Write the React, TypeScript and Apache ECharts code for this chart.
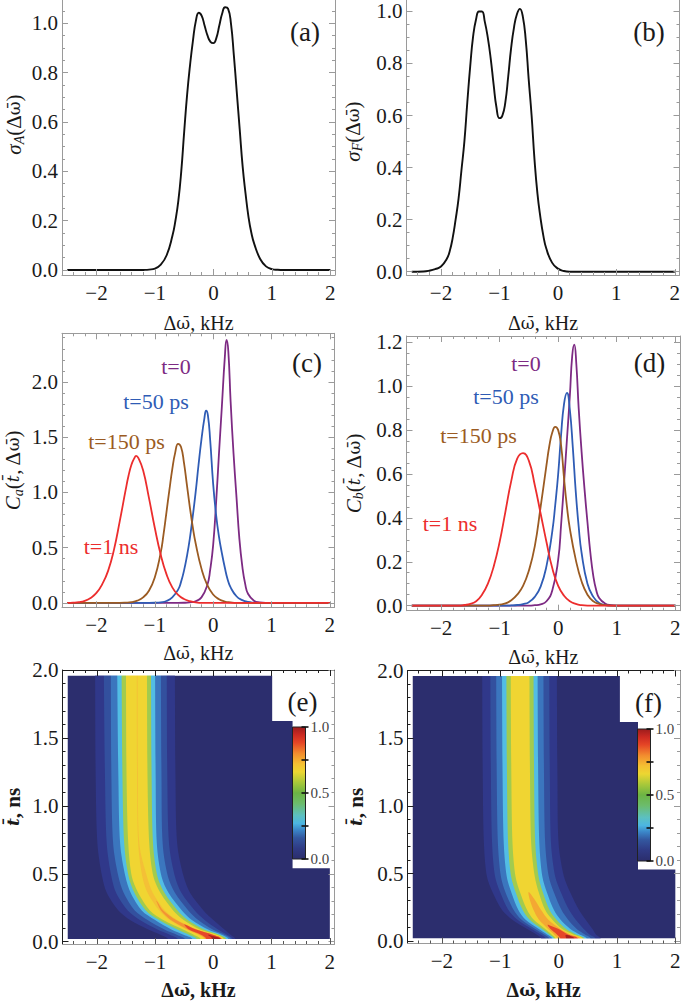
import React, { useEffect, useRef } from 'react';
import * as echarts from 'echarts';

const SERIF = 'Liberation Serif, Times New Roman, serif';
const DJ = 'DejaVu Serif, serif';

// ---------- axes / ticks ----------
const X_RANGE: [number, number] = [-2.59, 2.08];
const xMajor = [-2, -1, 0, 1, 2];
const yMajorAB = [0, 0.2, 0.4, 0.6, 0.8, 1.0];
const yMajorC = [0, 0.5, 1.0, 1.5, 2.0];
const yMajorD = [0, 0.2, 0.4, 0.6, 0.8, 1.0, 1.2];
const yMajorE = [0, 0.5, 1.0, 1.5, 2.0];
const cbarTicks = [0, 0.25, 0.5, 0.75, 1.0];
const cbarLabels = [0, 0.5, 1.0];

// ---------- (a), (b) ----------
const sigmaA: number[][] = [
  [-2.5, 0], [-1.3, 0], [-1.2, 0.0005], [-1.1, 0.002], [-1.0, 0.006], [-0.9, 0.022], [-0.8, 0.06], [-0.7, 0.14],
  [-0.65, 0.2], [-0.6, 0.28], [-0.55, 0.4], [-0.5, 0.56], [-0.45, 0.71], [-0.4, 0.83], [-0.35, 0.93], [-0.3, 1.01],
  [-0.25, 1.043], [-0.2, 1.03], [-0.15, 0.99], [-0.1, 0.95], [-0.05, 0.925], [0, 0.92], [0.05, 0.94], [0.1, 0.99],
  [0.15, 1.04], [0.2, 1.065], [0.25, 1.06], [0.3, 1.0], [0.35, 0.87], [0.4, 0.72], [0.45, 0.57], [0.5, 0.42],
  [0.55, 0.31], [0.6, 0.216], [0.65, 0.15], [0.7, 0.105], [0.8, 0.045], [0.9, 0.015], [1.0, 0.004], [1.1, 0.001],
  [1.2, 0], [2.0, 0],
];
const sigmaF: number[][] = [
  [-2.5, 0], [-2.3, 0.001], [-2.2, 0.004], [-2.1, 0.01], [-2.0, 0.02], [-1.9, 0.05], [-1.85, 0.08], [-1.8, 0.13],
  [-1.75, 0.2], [-1.7, 0.28], [-1.65, 0.39], [-1.6, 0.5], [-1.55, 0.65], [-1.5, 0.79], [-1.45, 0.905], [-1.4, 0.97],
  [-1.35, 1.0], [-1.3, 1.0], [-1.25, 0.96], [-1.2, 0.9], [-1.15, 0.82], [-1.1, 0.72], [-1.05, 0.63], [-1.0, 0.59],
  [-0.95, 0.6], [-0.9, 0.65], [-0.85, 0.75], [-0.8, 0.86], [-0.75, 0.94], [-0.7, 0.99], [-0.65, 1.01], [-0.6, 0.98],
  [-0.55, 0.89], [-0.5, 0.74], [-0.45, 0.6], [-0.4, 0.43], [-0.35, 0.3], [-0.3, 0.21], [-0.25, 0.14], [-0.2, 0.09],
  [-0.1, 0.035], [0, 0.012], [0.1, 0.003], [0.2, 0], [2.0, 0],
];

// ---------- (c) ----------
const caT0: number[][] = [
  [-2.5, 0], [-0.6, 0], [-0.5, 0.001], [-0.4, 0.005], [-0.3, 0.015], [-0.2, 0.05], [-0.1, 0.16], [-0.05, 0.3],
  [0, 0.52], [0.05, 0.9], [0.1, 1.35], [0.15, 1.78], [0.2, 2.22], [0.23, 2.38], [0.26, 2.28], [0.3, 1.82],
  [0.35, 1.35], [0.4, 0.96], [0.45, 0.58], [0.5, 0.33], [0.55, 0.17], [0.6, 0.08], [0.7, 0.02], [0.8, 0.004],
  [0.9, 0], [2.0, 0],
];
const caT50: number[][] = [
  [-2.5, 0], [-1.1, 0], [-1.0, 0.001], [-0.9, 0.005], [-0.8, 0.017], [-0.7, 0.05], [-0.6, 0.12], [-0.55, 0.19],
  [-0.5, 0.29], [-0.45, 0.42], [-0.4, 0.58], [-0.35, 0.78], [-0.3, 1.0], [-0.25, 1.25], [-0.2, 1.48], [-0.15, 1.67],
  [-0.12, 1.74], [-0.09, 1.7], [-0.05, 1.47], [0, 1.08], [0.05, 0.8], [0.1, 0.6], [0.15, 0.45], [0.2, 0.32],
  [0.25, 0.21], [0.3, 0.14], [0.4, 0.06], [0.5, 0.025], [0.6, 0.008], [0.7, 0.002], [0.8, 0], [2.0, 0],
];
const caT150: number[][] = [
  [-2.5, 0], [-1.6, 0], [-1.5, 0.002], [-1.4, 0.007], [-1.3, 0.02], [-1.2, 0.05], [-1.1, 0.11], [-1.0, 0.23],
  [-0.9, 0.45], [-0.85, 0.62], [-0.8, 0.82], [-0.75, 1.02], [-0.7, 1.21], [-0.65, 1.36], [-0.6, 1.44], [-0.55, 1.41],
  [-0.5, 1.27], [-0.45, 1.07], [-0.4, 0.87], [-0.35, 0.69], [-0.3, 0.54], [-0.2, 0.31], [-0.1, 0.16], [0, 0.076],
  [0.1, 0.033], [0.2, 0.012], [0.3, 0.004], [0.4, 0], [2.0, 0],
];
const caT1: number[][] = [
  [-2.5, 0], [-2.4, 0.002], [-2.3, 0.007], [-2.2, 0.019], [-2.1, 0.045], [-2.0, 0.09], [-1.9, 0.17], [-1.8, 0.29],
  [-1.7, 0.48], [-1.6, 0.74], [-1.5, 1.02], [-1.45, 1.15], [-1.4, 1.25], [-1.35, 1.31], [-1.32, 1.33], [-1.28, 1.31],
  [-1.2, 1.2], [-1.1, 0.95], [-1.0, 0.68], [-0.9, 0.44], [-0.8, 0.26], [-0.7, 0.14], [-0.6, 0.072], [-0.5, 0.035],
  [-0.4, 0.015], [-0.3, 0.005], [-0.2, 0], [2.0, 0],
];

// ---------- (d) ----------
const cbT0: number[][] = [
  [-2.5, 0], [-0.5, 0], [-0.4, 0.002], [-0.3, 0.006], [-0.2, 0.02], [-0.1, 0.07], [0, 0.21], [0.05, 0.37],
  [0.1, 0.56], [0.15, 0.76], [0.2, 0.96], [0.24, 1.14], [0.275, 1.19], [0.31, 1.1], [0.35, 0.9], [0.4, 0.7],
  [0.45, 0.53], [0.5, 0.38], [0.55, 0.24], [0.6, 0.135], [0.65, 0.07], [0.7, 0.035], [0.8, 0.01], [0.9, 0.002],
  [1.0, 0], [2.0, 0],
];
const cbT50: number[][] = [
  [-2.5, 0], [-0.9, 0], [-0.8, 0.001], [-0.7, 0.003], [-0.6, 0.007], [-0.5, 0.016], [-0.4, 0.04], [-0.3, 0.087],
  [-0.2, 0.18], [-0.1, 0.34], [-0.05, 0.46], [0, 0.6], [0.05, 0.78], [0.1, 0.92], [0.15, 0.97], [0.2, 0.89],
  [0.25, 0.72], [0.3, 0.52], [0.35, 0.36], [0.4, 0.24], [0.5, 0.1], [0.6, 0.04], [0.7, 0.012], [0.8, 0.003],
  [0.9, 0], [2.0, 0],
];
const cbT150: number[][] = [
  [-2.5, 0], [-1.2, 0], [-1.1, 0.002], [-1.0, 0.005], [-0.9, 0.01], [-0.8, 0.025], [-0.7, 0.05], [-0.6, 0.09],
  [-0.5, 0.16], [-0.4, 0.27], [-0.3, 0.45], [-0.2, 0.64], [-0.15, 0.73], [-0.1, 0.79], [-0.05, 0.815], [0, 0.8],
  [0.05, 0.73], [0.1, 0.58], [0.15, 0.45], [0.2, 0.35], [0.3, 0.21], [0.4, 0.11], [0.5, 0.05], [0.6, 0.02],
  [0.7, 0.008], [0.8, 0.002], [0.9, 0], [2.0, 0],
];
const cbT1: number[][] = [
  [-2.5, 0], [-1.7, 0], [-1.6, 0.003], [-1.5, 0.008], [-1.4, 0.02], [-1.3, 0.05], [-1.2, 0.1], [-1.1, 0.18],
  [-1.0, 0.29], [-0.9, 0.43], [-0.8, 0.57], [-0.7, 0.67], [-0.6, 0.695], [-0.5, 0.66], [-0.4, 0.55], [-0.3, 0.42],
  [-0.2, 0.29], [-0.1, 0.17], [0, 0.09], [0.1, 0.045], [0.2, 0.02], [0.3, 0.008], [0.4, 0.002], [0.5, 0], [2.0, 0],
];

// ---------- (e), (f) density maps: level boundaries (kHz) read at time knots (ns) ----------
const heatKnots = [0.02, 0.05, 0.09, 0.16, 0.23, 0.36, 0.48, 0.72, 1.2, 1.96];
const heatRegion = [-2.5, 2.0, 0.02, 1.96];
const eCutout = [[1.01, 1.625], [1.36, 0.54]];
const fCutout = [[1.05, 1.62], [1.36, 0.53]];

// levels: halo, blue, light blue, cyan, green, yellow, orange core
const eLeft = [
  [-0.78, -0.9, -1.12, -1.43, -1.63, -1.83, -1.91, -1.99, -2.02, -2.03],
  [-0.61, -0.74, -0.96, -1.26, -1.47, -1.67, -1.75, -1.83, -1.86, -1.88],
  [-0.49, -0.62, -0.84, -1.13, -1.35, -1.54, -1.63, -1.72, -1.75, -1.76],
  [-0.36, -0.5, -0.72, -1.0, -1.23, -1.42, -1.51, -1.6, -1.63, -1.65],
  [-0.29, -0.41, -0.62, -0.93, -1.16, -1.355, -1.455, -1.53, -1.56, -1.575],
  [-0.22, -0.33, -0.52, -0.86, -1.09, -1.29, -1.4, -1.46, -1.49, -1.5],
  [-0.16, -0.25, -0.46, -0.75, -0.93, -1.13, -1.22, -1.29, -1.31, -1.315],
];
const eRight = [
  [0.38, 0.3, 0.19, 0.0, -0.17, -0.4, -0.51, -0.62, -0.65, -0.66],
  [0.33, 0.24, 0.08, -0.15, -0.32, -0.55, -0.66, -0.76, -0.79, -0.8],
  [0.3, 0.2, -0.01, -0.26, -0.43, -0.66, -0.78, -0.87, -0.89, -0.9],
  [0.26, 0.15, -0.09, -0.37, -0.54, -0.77, -0.89, -0.97, -0.99, -1.0],
  [0.22, 0.11, -0.16, -0.44, -0.615, -0.84, -0.96, -1.035, -1.06, -1.07],
  [0.18, 0.07, -0.23, -0.51, -0.69, -0.91, -1.03, -1.1, -1.13, -1.14],
  [0.15, 0.02, -0.27, -0.62, -0.83, -1.04, -1.14, -1.27, -1.295, -1.3],
];
// orange-red, red, dark red
const eHotKnots = [[0.02, 0.05, 0.09, 0.16, 0.23, 0.3], [0.02, 0.05, 0.09, 0.125], [0.02, 0.035, 0.05]];
const eHotLeft = [[-0.14, -0.23, -0.44, -0.73, -0.9, -0.98], [-0.12, -0.2, -0.42, -0.5], [-0.02, -0.04, -0.09]];
const eHotRight = [[0.145, 0.01, -0.29, -0.64, -0.86, -0.97], [0.14, 0.0, -0.3, -0.48], [0.12, 0.06, -0.07]];

const fLeft = [
  [-0.3, -0.38, -0.54, -0.8, -0.97, -1.13, -1.23, -1.28, -1.3, -1.31],
  [-0.22, -0.31, -0.46, -0.71, -0.86, -1.0, -1.09, -1.14, -1.16, -1.17],
  [-0.16, -0.25, -0.4, -0.64, -0.77, -0.91, -0.99, -1.04, -1.06, -1.07],
  [-0.11, -0.2, -0.34, -0.57, -0.69, -0.81, -0.89, -0.94, -0.96, -0.97],
  [-0.08, -0.16, -0.285, -0.5, -0.615, -0.735, -0.815, -0.865, -0.885, -0.895],
  [-0.05, -0.12, -0.23, -0.43, -0.54, -0.66, -0.74, -0.79, -0.81, -0.82],
];
const fRight = [
  [0.72, 0.64, 0.58, 0.46, 0.35, 0.2, 0.09, 0.0, -0.02, -0.03],
  [0.63, 0.53, 0.43, 0.29, 0.18, 0.04, -0.06, -0.13, -0.15, -0.16],
  [0.55, 0.45, 0.31, 0.16, 0.05, -0.08, -0.17, -0.23, -0.25, -0.26],
  [0.48, 0.36, 0.2, 0.03, -0.08, -0.2, -0.28, -0.33, -0.35, -0.36],
  [0.44, 0.3, 0.13, -0.04, -0.155, -0.27, -0.345, -0.4, -0.42, -0.43],
  [0.41, 0.25, 0.06, -0.11, -0.23, -0.34, -0.41, -0.47, -0.49, -0.5],
];
// orange, red, dark red
const fHotKnots = [[0.02, 0.05, 0.09, 0.16, 0.23, 0.3, 0.36], [0.02, 0.05, 0.09, 0.12], [0.02, 0.035, 0.045]];
const fHotLeft = [[-0.02, -0.08, -0.18, -0.34, -0.43, -0.49, -0.52], [0.03, -0.03, -0.14, -0.19], [0.13, 0.12, 0.12]];
const fHotRight = [[0.37, 0.2, 0.03, -0.18, -0.3, -0.4, -0.5], [0.33, 0.16, 0.0, -0.17], [0.27, 0.22, 0.15]];

const cmap: [number, string][] = [
  [0.0, '#2b2d6c'], [0.08, '#2f3a84'], [0.16, '#33579f'], [0.22, '#3b86c8'], [0.27, '#4cb6e2'],
  [0.33, '#5cc0c0'], [0.42, '#6cbc6c'], [0.5, '#6cb444'], [0.58, '#a8c83a'], [0.66, '#ecd632'],
  [0.72, '#f5c032'], [0.8, '#f28c2e'], [0.88, '#e54626'], [0.94, '#cc2a22'], [1.0, '#9c1c1c'],
];
const BG = '#2c2e6e';
const bandFills = ['#30388a', '#33509e', '#3b76be', '#52bde4', '#a2cb4e', '#f0d532', '#f4c036'];
const hotFillsE = ['#f29433', '#e5462a', '#a81e1e'];
const hotFillsF = ['#f4a833', '#e5462a', '#a81e1e'];

const PURPLE = '#7d2a83';
const BLUE = '#2f5cb5';
const BROWN = '#9b5b22';
const RED = '#ec2d2d';

// ---------- helpers ----------
function ticks(from: number, to: number, step: number): number[] {
  const out: number[] = [];
  const n = Math.round((to - from) / step);
  for (let i = 0; i <= n; i++) out.push(Math.round((from + i * step) * 1000) / 1000);
  return out;
}
function minorOf(from: number, to: number, step: number, major: number[]) {
  return ticks(from, to, step).filter((v) => !major.some((m) => Math.abs(m - v) < 1e-6));
}
const xMinor = minorOf(-2.4, 2.0, 0.2, xMajor);

function levelPoly(knots: number[], L: number[], R: number[], toTop: boolean): number[][] {
  const n = knots.length;
  const pts: number[][] = [[L[0], -0.1]];
  for (let i = 0; i < n; i++) pts.push([L[i], knots[i]]);
  if (toTop) {
    pts.push([L[n - 1], 2.1]);
    pts.push([R[n - 1], 2.1]);
  }
  for (let i = n - 1; i >= 0; i--) pts.push([R[i], knots[i]]);
  pts.push([R[0], -0.1]);
  return pts;
}

type Shape = { pts: number[][]; fill: string; smooth: number };

function heatShapes(
  left: number[][], right: number[][], hotK: number[][], hotL: number[][], hotR: number[][],
  hotFills: string[], cut: number[][], yr: number[]
): Shape[] {
  const [x0, x1, t0, t1] = heatRegion;
  const shapes: Shape[] = [];
  shapes.push({
    pts: [[x0, t0], [x1, t0], [x1, cut[1][1]], [cut[1][0], cut[1][1]], [cut[1][0], cut[0][1]],
      [cut[0][0], cut[0][1]], [cut[0][0], t1], [x0, t1]],
    fill: BG, smooth: 0,
  });
  left.forEach((L, i) => shapes.push({ pts: levelPoly(heatKnots, L, right[i], true), fill: bandFills[i], smooth: 0.3 }));
  hotK.forEach((k, i) => shapes.push({ pts: levelPoly(k, hotL[i], hotR[i], false), fill: hotFills[i], smooth: 0.3 }));
  shapes.push({ pts: [[X_RANGE[0], yr[0] - 0.2], [X_RANGE[1], yr[0] - 0.2], [X_RANGE[1], t0], [X_RANGE[0], t0]], fill: '#ffffff', smooth: 0 });
  shapes.push({ pts: [[X_RANGE[0], t1], [X_RANGE[1], t1], [X_RANGE[1], yr[1] + 0.2], [X_RANGE[0], yr[1] + 0.2]], fill: '#ffffff', smooth: 0 });
  return shapes;
}

const fmtX = (v: number) => (v < 0 ? '\u2212' + Math.abs(v) : String(v));
const fmtY = (v: number) => v.toFixed(1);

type Panel = {
  grid: { left: number; top: number; width: number; height: number };
  yr: number[];
  yMajor: number[];
  yMinorStep: number;
  yName: string;
  xGap: number;
  yGap: number;
  bold: boolean;
  heat: boolean;
};

const TXT = '#1a1a1a';

function richStyles(fw: string) {
  return {
    i: { fontFamily: SERIF, fontSize: 21, fontStyle: 'italic', fontWeight: fw, color: TXT, lineHeight: 24 },
    s: { fontFamily: SERIF, fontSize: 14, fontStyle: 'italic', fontWeight: fw, color: TXT, verticalAlign: 'bottom', lineHeight: 14 },
    w: { fontFamily: DJ, fontSize: 17, fontWeight: fw, color: TXT, lineHeight: 24 },
    tb: { fontFamily: DJ, fontSize: 17, fontStyle: 'italic', fontWeight: fw, color: TXT, lineHeight: 24 },
  };
}

function axesFor(g: number, p: Panel) {
  const frameMain = p.heat ? '#1e1e1e' : '#9a9a9a';
  const frameSide = '#9a9a9a';
  const tickBottom = p.heat ? '#555555' : '#9a9a9a';
  const yMinor = minorOf(p.yMinorStep, p.yr[1], p.yMinorStep, p.yMajor);
  const common = { type: 'value', gridIndex: g, z: 5, splitLine: { show: false } };
  const xr = { min: X_RANGE[0], max: X_RANGE[1] };
  const yrr = { min: p.yr[0], max: p.yr[1] };
  const fw = p.bold ? 'bold' : 'normal';
  const xAxes = [
    {
      ...common, ...xr, position: 'bottom',
      axisLine: { show: true, onZero: false, lineStyle: { color: frameSide, width: 1 } },
      axisTick: { show: true, inside: true, length: 6, customValues: xMajor, lineStyle: { color: tickBottom, width: 1 } },
      axisLabel: { show: true, customValues: xMajor, formatter: fmtX, margin: 7, fontFamily: SERIF, fontSize: 21, color: TXT },
      name: 'Δ{w|ω\u0304}, kHz', nameLocation: 'middle', nameGap: p.xGap,
      nameTextStyle: { fontFamily: SERIF, fontSize: 20, color: TXT, fontWeight: fw, lineHeight: 24, rich: richStyles(fw) },
    },
    {
      ...common, ...xr, position: 'bottom',
      axisLine: { show: false, onZero: false },
      axisTick: { show: true, inside: true, length: 3, customValues: xMinor, lineStyle: { color: tickBottom, width: 1 } },
      axisLabel: { show: false },
    },
    {
      ...common, ...xr, position: 'top',
      axisLine: { show: true, onZero: false, lineStyle: { color: frameMain, width: 1 } },
      axisTick: { show: true, inside: true, length: 6, customValues: xMajor, lineStyle: { color: frameMain, width: 1 } },
      axisLabel: { show: false },
    },
    {
      ...common, ...xr, position: 'top',
      axisLine: { show: false, onZero: false },
      axisTick: { show: true, inside: true, length: 3, customValues: xMinor, lineStyle: { color: frameMain, width: 1 } },
      axisLabel: { show: false },
    },
  ];
  const yAxes = [
    {
      ...common, ...yrr, position: 'left',
      axisLine: { show: true, onZero: false, lineStyle: { color: frameMain, width: 1 } },
      axisTick: { show: true, inside: true, length: 6, customValues: p.yMajor, lineStyle: { color: frameMain, width: 1 } },
      axisLabel: { show: true, customValues: p.yMajor, formatter: fmtY, margin: 4, fontFamily: SERIF, fontSize: 21, lineHeight: 15, color: TXT },
      name: p.yName, nameLocation: 'middle', nameGap: p.yGap,
      nameTextStyle: { fontFamily: SERIF, fontSize: 21, color: TXT, fontWeight: fw, lineHeight: 24, rich: richStyles(fw) },
    },
    {
      ...common, ...yrr, position: 'left',
      axisLine: { show: false, onZero: false },
      axisTick: { show: true, inside: true, length: 3, customValues: yMinor, lineStyle: { color: frameMain, width: 1 } },
      axisLabel: { show: false },
    },
    {
      ...common, ...yrr, position: 'right',
      axisLine: { show: true, onZero: false, lineStyle: { color: frameSide, width: 1 } },
      axisTick: { show: true, inside: true, length: 6, customValues: p.yMajor, lineStyle: { color: frameSide, width: 1 } },
      axisLabel: { show: false },
    },
    {
      ...common, ...yrr, position: 'right',
      axisLine: { show: false, onZero: false },
      axisTick: { show: true, inside: true, length: 3, customValues: yMinor, lineStyle: { color: frameSide, width: 1 } },
      axisLabel: { show: false },
    },
  ];
  return { xAxes, yAxes };
}

function lineSeries(g: number, data: number[][], color: string, width = 1.8) {
  return {
    type: 'line', xAxisIndex: 4 * g, yAxisIndex: 4 * g, data, smooth: 0.5,
    showSymbol: false, symbol: 'none', lineStyle: { color, width }, itemStyle: { color }, z: 3, silent: true, clip: true,
  };
}

function heatSeries(g: number, shapes: Shape[]) {
  return {
    type: 'custom', coordinateSystem: 'cartesian2d', xAxisIndex: 4 * g, yAxisIndex: 4 * g, clip: true, silent: true, z: 2,
    data: shapes.map((_, i) => [i, 0]),
    renderItem: (params: any, api: any) => {
      const s = shapes[params.dataIndex];
      return {
        type: 'polygon',
        shape: { points: s.pts.map((pt) => api.coord(pt)), smooth: s.smooth },
        style: { fill: s.fill },
      };
    },
  };
}

function text(str: string, x: number, y: number, size: number, color: string, align = 'center') {
  return {
    type: 'text', x, y, z: 120, silent: true,
    style: {
      text: str, fill: color, fontFamily: SERIF, fontSize: size,
      align, verticalAlign: 'middle', textAlign: align, textVerticalAlign: 'middle',
    },
  };
}

function colorbar(x: number, y: number, w: number, h: number) {
  const els: any[] = [
    {
      type: 'rect', z: 110, silent: true, shape: { x, y, width: w, height: h },
      style: {
        fill: { type: 'linear', x: 0, y: 1, x2: 0, y2: 0, colorStops: cmap.map(([o, c]) => ({ offset: o, color: c })) },
        stroke: '#222', lineWidth: 1,
      },
    },
  ];
  cbarTicks.forEach((v) => {
    const yy = y + h - v * h;
    els.push({ type: 'line', z: 111, silent: true, shape: { x1: x + w - 4, y1: yy, x2: x + w + 3, y2: yy }, style: { stroke: '#111', lineWidth: 1.6 } });
  });
  cbarLabels.forEach((v) => {
    const yy = y + h - v * h;
    els.push(text(v.toFixed(1), x + w + 5, yy, 15, '#444', 'left'));
  });
  return els;
}

const panels: Panel[] = [
  { grid: { left: 62, top: -26, width: 273, height: 301 }, yr: [-0.02, 1.2], yMajor: yMajorAB, yMinorStep: 0.05,
    yName: '{i|σ}{s|A}(Δ{w|ω\u0304})', xGap: 36, yGap: 36, bold: false, heat: false },
  { grid: { left: 406.5, top: -12, width: 273, height: 287 }, yr: [-0.0125, 1.09], yMajor: yMajorAB, yMinorStep: 0.05,
    yName: '{i|σ}{s|F}(Δ{w|ω\u0304})', xGap: 36, yGap: 42, bold: false, heat: false },
  { grid: { left: 62, top: 333.3, width: 272.5, height: 274 }, yr: [-0.04, 2.44], yMajor: yMajorC, yMinorStep: 0.1,
    yName: '{i|C}{s|a}({tb|t\u0304}, Δ{w|ω\u0304})', xGap: 34, yGap: 37, bold: false, heat: false },
  { grid: { left: 406.5, top: 336, width: 273.5, height: 274.7 }, yr: [-0.023, 1.229], yMajor: yMajorD, yMinorStep: 0.05,
    yName: '{i|C}{s|b}({tb|t\u0304}, Δ{w|ω\u0304})', xGap: 34, yGap: 41, bold: false, heat: false },
  { grid: { left: 62.5, top: 670, width: 272, height: 274 }, yr: [-0.017, 2.0], yMajor: yMajorE, yMinorStep: 0.1,
    yName: '{tb|t\u0304}, ns', xGap: 34, yGap: 38, bold: true, heat: true },
  { grid: { left: 407.5, top: 670.5, width: 272.5, height: 273 }, yr: [-0.017, 2.0], yMajor: yMajorE, yMinorStep: 0.1,
    yName: '{tb|t\u0304}, ns', xGap: 34, yGap: 40, bold: true, heat: true },
];

function buildOption() {
  const xAxis: any[] = [];
  const yAxis: any[] = [];
  panels.forEach((p, g) => {
    const a = axesFor(g, p);
    xAxis.push(...a.xAxes);
    yAxis.push(...a.yAxes);
  });
  const grid = panels.map((p) => ({ ...p.grid, containLabel: false, outerBoundsMode: 'none', show: false }));

  const eShapes = heatShapes(eLeft, eRight, eHotKnots, eHotLeft, eHotRight, hotFillsE, eCutout, panels[4].yr);
  const fShapes = heatShapes(fLeft, fRight, fHotKnots, fHotLeft, fHotRight, hotFillsF, fCutout, panels[5].yr);

  const series: any[] = [
    lineSeries(0, sigmaA, '#111111', 1.9),
    lineSeries(1, sigmaF, '#111111', 1.9),
    lineSeries(2, caT0, PURPLE),
    lineSeries(2, caT50, BLUE),
    lineSeries(2, caT150, BROWN),
    lineSeries(2, caT1, RED),
    lineSeries(3, cbT0, PURPLE),
    lineSeries(3, cbT50, BLUE),
    lineSeries(3, cbT150, BROWN),
    lineSeries(3, cbT1, RED),
    heatSeries(4, eShapes),
    heatSeries(5, fShapes),
  ];

  const graphic: any[] = [
    text('(a)', 305, 32, 27, TXT),
    text('(b)', 649, 32, 27, TXT),
    text('(c)', 307, 363, 27, TXT),
    text('(d)', 649.5, 363, 27, TXT),
    text('(e)', 302.5, 702, 27, TXT),
    text('(f)', 648.5, 703, 27, TXT),
    text('t=0', 176, 366, 22, PURPLE),
    text('t=50 ps', 156, 401.7, 22, BLUE),
    text('t=150 ps', 126.5, 441.7, 22, BROWN),
    text('t=1 ns', 111, 546.7, 22, RED),
    text('t=0', 526, 363.3, 22, PURPLE),
    text('t=50 ps', 506, 396.7, 22, BLUE),
    text('t=150 ps', 478.5, 435, 22, BROWN),
    text('t=1 ns', 450, 523.3, 22, RED),
    ...colorbar(292.5, 727, 13, 132),
    ...colorbar(637.5, 729, 13, 132),
  ];

  return { animation: false, backgroundColor: '#ffffff', grid, xAxis, yAxis, series, graphic };
}

export default function App() {
  const ref = useRef<HTMLDivElement>(null);
  useEffect(() => {
    if (!ref.current) return;
    const chart = echarts.init(ref.current, undefined, { renderer: 'svg' });
    chart.setOption(buildOption() as any);
    return () => chart.dispose();
  }, []);
  return (
    <div
      ref={ref}
      style={{ position: 'absolute', left: 0, top: 0, width: 682, height: 1003, background: '#ffffff' }}
    />
  );
}
